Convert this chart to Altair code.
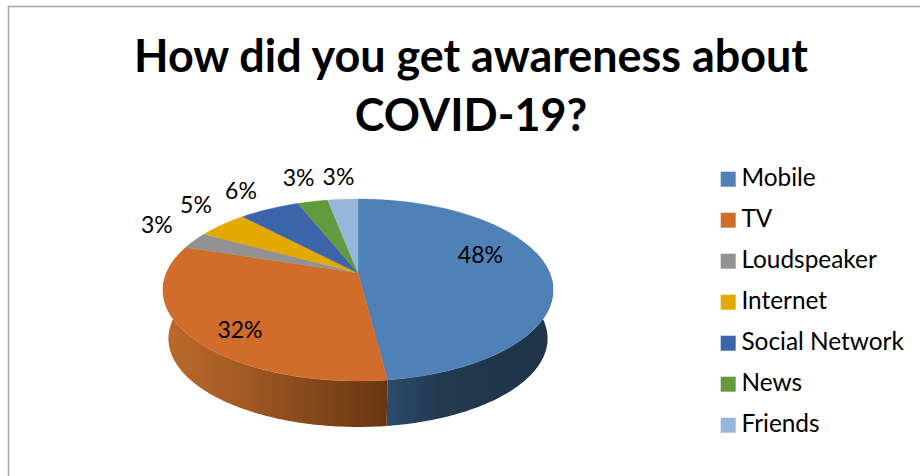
import math
import altair as alt

# Survey shares, one per slice, clockwise from twelve o'clock
categories = ["Mobile", "TV", "Loudspeaker", "Internet", "Social Network", "News", "Friends"]
shares = [48, 32, 3, 5, 6, 3, 3]
colors = ["#4F81B7", "#D06D2A", "#929292", "#E3A900", "#3C64AB", "#629A3E", "#95B7DE"]

# Outer wall shading of the two slices that face the viewer
wall_stops = {
    "Mobile": ["#2A4B6C", "#22394F", "#20364B", "#1F3448"],
    "TV": ["#BC6A2C", "#A45A24", "#85481B", "#683512"],
}

# Label placement relative to the disc: radial factor and vertical nudge
label_radius = [0.645, 0.73, 1.25, 1.22, 1.39, 1.39, 1.36]
label_lift = [-13, 13, -7, -9, 3, 0, 0]

title_lines = ["How did you get awareness about", "COVID-19?"]

FONT = "Lato"
TOP = 140  # band above the plot area that holds the title

# Perspective disc geometry
CX, CY = 358, 273 - TOP
SPREAD_X, SPREAD_Y, TILT = 191.6, 87.8, 0.187
DROP, SHRINK = 49, 0.972


def project(theta, rho=1.0, base=False):
    """Map a disc position (clockwise angle, radial factor) to the plane."""
    u, v = rho * math.sin(theta), rho * math.cos(theta)
    w = 1 + TILT * v
    k, dy = (SHRINK, DROP) if base else (1.0, 0.0)
    return [CX + k * SPREAD_X * u / w, CY + dy - k * SPREAD_Y * v / w]


def rim(t0, t1, base=False):
    steps = max(2, int(abs(t1 - t0) * 60))
    return [project(t0 + (t1 - t0) * i / steps, base=base) for i in range(steps + 1)]


def feature(name, ring):
    return {
        "type": "Feature",
        "properties": {"name": name},
        "geometry": {"type": "Polygon", "coordinates": [ring + [ring[0]]]},
    }


total = sum(shares)
edges = [0.0]
for s in shares:
    edges.append(edges[-1] + 2 * math.pi * s / total)

tops = []
for name, t0, t1 in zip(categories, edges, edges[1:]):
    tops.append(feature(name, [project(0, 0)] + rim(t0, t1)))

# The wall of a slice runs between the upper and lower rim over its visible span
visible = {"Mobile": (math.pi * 0.42, edges[1]), "TV": (edges[1], math.pi * 1.56)}
walls = {
    name: feature(name, rim(*span) + rim(*span, base=True)[::-1])
    for name, span in visible.items()
}

identity = dict(type="identity", scale=1, translate=[0, 0])

layers = []
for name in ["Mobile", "TV"]:
    stops = wall_stops[name]
    gradient = alt.Gradient(
        gradient="linear",
        x1=0, x2=1, y1=0, y2=0,
        stops=[
            alt.GradientStop(color=c, offset=i / (len(stops) - 1))
            for i, c in enumerate(stops)
        ],
    )
    layers.append(
        alt.Chart(alt.Data(values=[walls[name]]))
        .mark_geoshape(fill=gradient, strokeWidth=0)
        .project(**identity)
    )

top_layer = (
    alt.Chart(alt.Data(values=tops))
    .mark_geoshape(strokeWidth=0.4)
    .encode(
        fill=alt.Fill(
            "properties.name:N",
            scale=alt.Scale(domain=categories, range=colors),
            sort=categories,
            legend=alt.Legend(
                title=None,
                orient="none",
                legendX=716,
                legendY=167 - TOP,
                symbolType="square",
                symbolSize=225,
                symbolStrokeWidth=0,
                labelFont=FONT,
                labelFontSize=24.4,
                labelColor="#000000",
                labelOffset=1,
                rowPadding=16,
                labelLimit=220,
            ),
        ),
        stroke=alt.Stroke(
            "properties.name:N",
            scale=alt.Scale(domain=categories, range=colors),
            legend=None,
        ),
    )
    .project(**identity)
)
layers.append(top_layer)

# Percentage labels sit on or beyond the disc at each slice's mid-angle
label_rows = []
for i, s in enumerate(shares):
    lx, ly = project((edges[i] + edges[i + 1]) / 2, label_radius[i])
    label_rows.append({"text": f"{s}%", "lx": lx, "ly": ly + label_lift[i]})

layers.append(
    alt.Chart(alt.Data(values=label_rows))
    .mark_text(font=FONT, fontSize=23, color="#000000", baseline="middle", align="center")
    .encode(
        x=alt.X("lx:Q", scale=None),
        y=alt.Y("ly:Q", scale=None),
        text="text:N",
    )
)

# Top and left edges of the surrounding frame; the other two fall outside the window
frame = (
    alt.Chart(alt.Data(values=[{"k": 0}]))
    .mark_rect(fill="transparent", stroke="#A6A6A6", strokeWidth=1.5)
    .encode(
        x=alt.value(8.5),
        x2=alt.value(940),
        y=alt.value(6.5 - TOP),
        y2=alt.value(500 - TOP),
    )
)

chart = (
    alt.layer(frame, *layers)
    .properties(
        width=920,
        height=476 - TOP,
        padding={"left": 0, "right": 0, "top": TOP, "bottom": 0},
        autosize=alt.AutoSizeParams(type="none"),
        title=alt.TitleParams(
            text=title_lines,
            font=FONT,
            fontSize=44.9,
            fontWeight="bold",
            color="#000000",
            lineHeight=59,
            anchor="middle",
            dx=11,
            dy=135,
            offset=0,
        ),
    )
    .configure_view(stroke=None)
)

chart.save("out.html", embed_options={"renderer": "svg", "actions": False})
